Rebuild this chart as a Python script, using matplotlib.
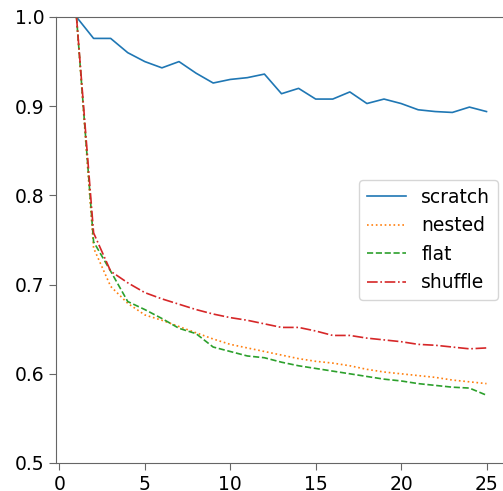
import matplotlib
matplotlib.use('Agg')
import matplotlib.pyplot as plt

epochs = list(range(1, 26))
scratch = [1.0, 0.976, 0.976, 0.960, 0.950, 0.943, 0.950, 0.937, 0.926, 0.930, 0.932, 0.936, 0.914, 0.920, 0.908,
           0.908, 0.916, 0.903, 0.908, 0.903, 0.896, 0.894, 0.893, 0.899, 0.894]
nested = [1.0, 0.741, 0.698, 0.679, 0.666, 0.660, 0.653, 0.646, 0.639, 0.633, 0.629, 0.625, 0.621, 0.617, 0.614,
          0.612, 0.609, 0.605, 0.602, 0.600, 0.598, 0.596, 0.593, 0.591, 0.589]
flat = [1.0, 0.748, 0.715, 0.681, 0.672, 0.662, 0.651, 0.645, 0.630, 0.625, 0.620, 0.618, 0.613, 0.609, 0.606,
        0.603, 0.600, 0.597, 0.594, 0.592, 0.589, 0.587, 0.585, 0.584, 0.576]
shuffle = [1.0, 0.758, 0.715, 0.702, 0.691, 0.684, 0.678, 0.672, 0.667, 0.663, 0.660, 0.656, 0.652, 0.652, 0.648,
           0.643, 0.643, 0.640, 0.638, 0.636, 0.633, 0.632, 0.630, 0.628, 0.629]

fig = plt.figure(figsize=(5.03, 4.91), dpi=100)
ax = fig.add_axes([56 / 503, 28 / 491, 451 / 503, 446 / 491])

ax.plot(epochs, scratch, color='tab:blue', linestyle='-', linewidth=1.2, label='scratch')
ax.plot(epochs, nested, color='tab:orange', linestyle=':', linewidth=1.2, label='nested')
ax.plot(epochs, flat, color='tab:green', linestyle='--', linewidth=1.2, label='flat')
ax.plot(epochs, shuffle, color='tab:red', linestyle='-.', linewidth=1.2, label='shuffle')

ax.set_ylim(0.5, 1.0)
ax.set_xticks([0, 5, 10, 15, 20, 25])
ax.set_yticks([0.5, 0.6, 0.7, 0.8, 0.9, 1.0])
ax.tick_params(labelsize=13.5, color='#666666', length=5)
for s in ax.spines.values():
    s.set_color('#666666')

ax.legend(loc='center right', fontsize=13.5, handlelength=2.1)

fig.savefig('out.png', dpi=100)
